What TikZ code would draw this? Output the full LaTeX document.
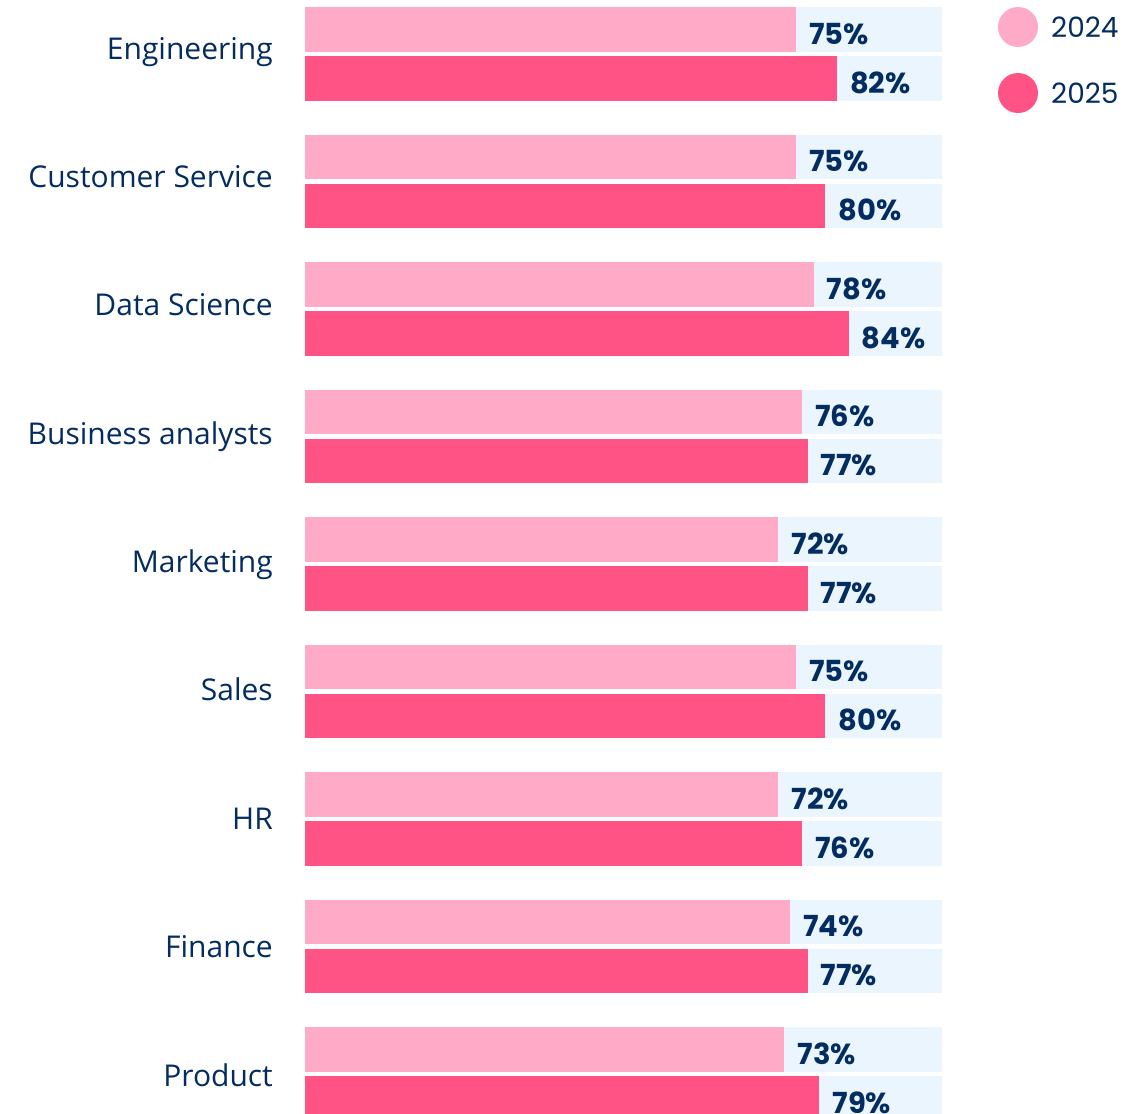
\documentclass[tikz,border=0pt]{standalone}
\usepackage{fontspec}
\setmainfont{Open Sans}
\newfontfamily\pctfont{Poppins}
\definecolor{lightbar}{HTML}{FFABC8}
\definecolor{darkbar}{HTML}{FF5385}
\definecolor{trackbg}{HTML}{EAF5FE}
\definecolor{navy}{HTML}{032D60}
\tikzset{
  catlabel/.style={anchor=base east, inner sep=0pt, text=navy, font=\fontsize{30}{36}\selectfont},
  pctlabel/.style={anchor=base west, inner sep=0pt, text=navy, font=\pctfont\bfseries\fontsize{29}{34}\selectfont},
  leglabel/.style={anchor=base west, inner sep=0pt, text=navy, font=\pctfont\fontsize{28}{33}\selectfont},
}
\begin{document}
\begin{tikzpicture}[x=1pt,y=-1pt]
\useasboundingbox (0,0) rectangle (1144,1114);
\clip (0,0) rectangle (1144,1114);
\foreach \name/\a/\b [count=\i from 0] in {Engineering/75/82, Customer Service/75/80, Data Science/78/84, Business analysts/76/77, Marketing/72/77, Sales/75/80, HR/72/76, Finance/74/77, Product/73/79} {
  \pgfmathsetmacro\t{7+127.5*\i}
  \pgfmathsetmacro\xa{942-(100-\a)*5.84}
  \pgfmathsetmacro\xb{942-(100-\b)*5.84}
  \pgfmathsetmacro\ly{\t+52+0.875*\i}
  \fill[trackbg] (305,\t) rectangle (942,\t+44.5);
  \fill[trackbg] (305,\t+49) rectangle (942,\t+93.5);
  \fill[lightbar] (305,\t) rectangle (\xa,\t+44.5);
  \fill[darkbar] (305,\t+49) rectangle (\xb,\t+93.5);
  \node[catlabel] (cat\i) at (273,\ly) {\name};
  \node[pctlabel] (pa\i) at (\xa+13,\t+37) {\a\%};
  \node[pctlabel] (pb\i) at (\xb+13,\t+86) {\b\%};
}
\fill[lightbar] (1018,27) circle[radius=20];
\fill[darkbar] (1018,93) circle[radius=20];
\node[leglabel] (leg1) at (1051,37) {2024};
\node[leglabel] (leg2) at (1051,103) {2025};
\end{tikzpicture}
\end{document}
